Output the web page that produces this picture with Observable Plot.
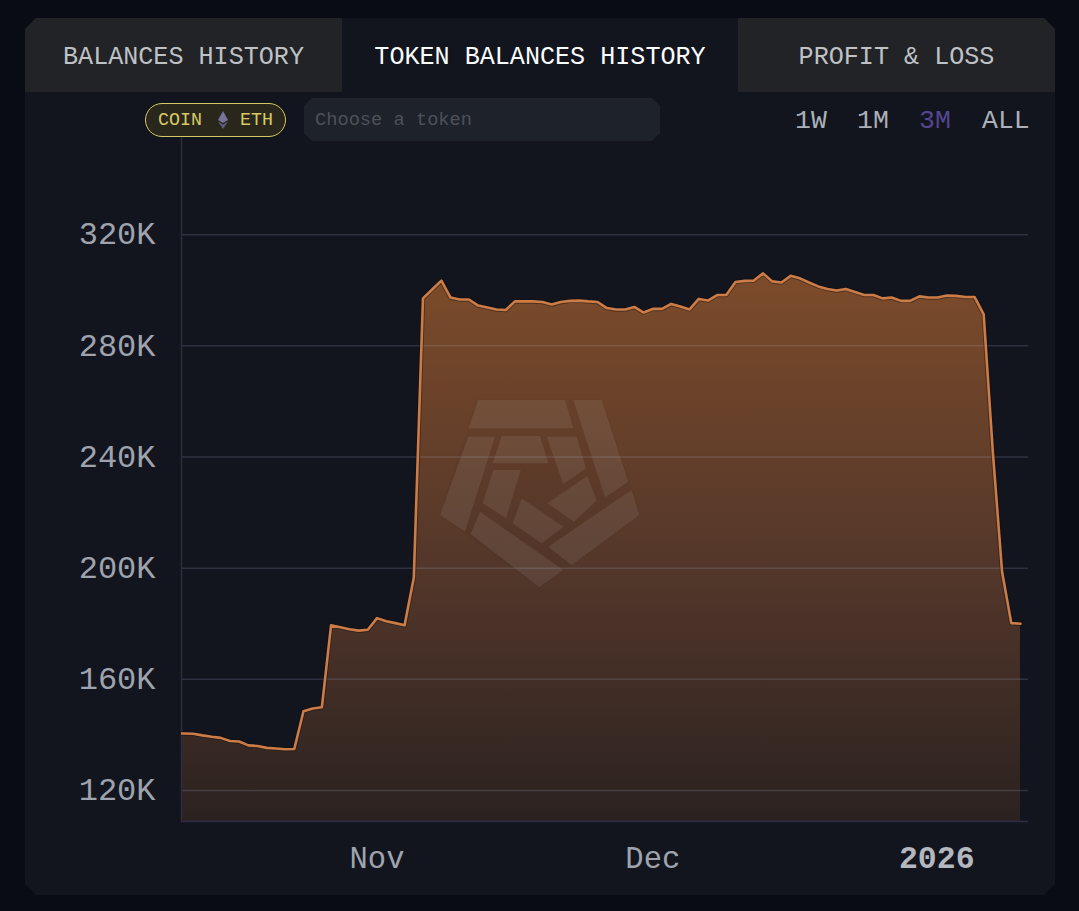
<!DOCTYPE html>
<html>
<head>
<meta charset="utf-8">
<script src="https://cdn.jsdelivr.net/npm/d3@7"></script>
<script src="https://cdn.jsdelivr.net/npm/@observablehq/plot@0.6"></script>
<style>
html,body{margin:0;padding:0;background:#090c15;}
body{width:1079px;height:911px;position:relative;overflow:hidden;font-family:"Liberation Mono",monospace;}
#card{position:absolute;left:25px;top:18px;width:1030px;height:877px;background:#12151e;
 clip-path:polygon(0 11px,11px 0,calc(100% - 11px) 0,100% 11px,100% calc(100% - 11px),calc(100% - 11px) 100%,11px 100%,0 calc(100% - 11px));}
.tab{position:absolute;top:18px;height:74px;line-height:79px;text-align:center;font-size:25.1px;color:#bfc1c4;background:#212327;}
#t1{left:25px;width:317px;clip-path:polygon(0 11px,11px 0,100% 0,100% 100%,0 100%);}
#t2{left:342px;width:396px;color:#fbfcfd;background:#12151e;}
#t3{left:738px;width:317px;clip-path:polygon(0 0,calc(100% - 11px) 0,100% 11px,100% 100%,0 100%);}
#chart{position:absolute;left:0;top:0;}
#badge{position:absolute;left:145px;top:103px;width:139px;height:32px;border:1px solid #d6c662;border-radius:17px;background:#29271b;color:#d9c964;font-size:18.3px;line-height:33px;}
#badge span{position:absolute;top:0;}
#badge svg{position:absolute;left:71px;top:7px;}
#input{position:absolute;left:304px;top:98px;width:356px;height:43px;line-height:45px;background:#1e222b;color:#4d5159;font-size:18.7px;text-indent:11px;
 clip-path:polygon(0 8px,8px 0,calc(100% - 8px) 0,100% 8px,100% calc(100% - 8px),calc(100% - 8px) 100%,8px 100%,0 calc(100% - 8px));}
.range{position:absolute;top:105px;font-size:26.5px;line-height:32px;color:#adb0b8;}
#logo{position:absolute;left:400px;top:260px;width:340px;height:340px;pointer-events:none;}
</style>
</head>
<body>
<div id="card"></div>
<div class="tab" id="t1">BALANCES HISTORY</div>
<div class="tab" id="t2">TOKEN BALANCES HISTORY</div>
<div class="tab" id="t3">PROFIT &amp; LOSS</div>
<div id="chart"></div>
<svg id="logo" viewBox="0 0 1020 1020"><polygon points="228,418 608,418 722,765 418,985 118,765" fill="#000000" fill-opacity="0.025"/><g id="logoShapes" fill="#ffffff" fill-opacity="0.08"></g></svg>
<div id="badge"><span style="left:12px">COIN</span><svg width="12" height="18" viewBox="0 0 12 18"><path d="M6 0L11 9L6 12L1 9Z" fill="#77739c"/><path d="M6 13.5L11 10.5L6 18L1 10.5Z" fill="#5f5b82"/></svg><span style="left:94px">ETH</span></div>
<div id="input">Choose a token</div>
<div class="range" style="left:795px">1W</div>
<div class="range" style="left:857px">1M</div>
<div class="range" style="left:919px;color:#54458f">3M</div>
<div class="range" style="left:982px">ALL</div>
<script>
// Token balance in thousands, one value per day from 2025-10-10
const startDate = new Date(Date.UTC(2025, 9, 10));
const balances = [
 140.5,140.5,140.4,139.8,139.3,138.9,137.8,137.6,136.2,136.0,135.3,135.1,134.8,134.9,
 148.5,149.5,149.9,179.4,178.7,178.0,177.5,177.8,182.0,180.9,180.2,179.4,196.5,
 297.1,300.3,303.5,297.4,296.7,296.7,294.5,293.8,293.1,292.9,296.0,296.0,296.0,295.8,
 294.9,295.8,296.2,296.3,296.0,295.8,293.6,293.1,293.1,294.0,292.0,293.3,293.3,295.1,
 294.2,293.1,296.9,296.3,298.3,298.3,303.0,303.4,303.5,306.1,303.2,302.8,305.2,304.3,
 302.8,301.4,300.5,299.9,300.5,299.4,298.3,298.3,297.1,297.4,296.2,296.2,297.8,297.4,
 297.4,298.1,298.0,297.6,297.6,291.3,241.6,198.7,180.2,180.0
];
const yTicks = [120,160,200,240,280,320];
const monthTicks = [new Date(Date.UTC(2025,10,1)), new Date(Date.UTC(2025,11,1))];
const monthLabels = ["Nov","Dec"];
const yearTicks = [new Date(Date.UTC(2026,0,1))];
const yearLabels = ["2026"];
const xDomain = [new Date(Date.UTC(2025,9,10,17,30)), new Date(Date.UTC(2026,0,10,21))];
const yDomain = [108.8,355];

const series = balances.map((value,i)=>({date:d3.utcDay.offset(startDate,i),value}));
const font = '"Liberation Mono",monospace';

function gradientDefs(){
  const defs = d3.create("svg:defs");
  const g = defs.append("linearGradient").attr("id","balFill")
    .attr("gradientUnits","userSpaceOnUse").attr("x1",0).attr("x2",0).attr("y1",275).attr("y2",821);
  g.append("stop").attr("offset","0%").attr("stop-color","#7c4b2a");
  g.append("stop").attr("offset","55%").attr("stop-color","#52362a");
  g.append("stop").attr("offset","100%").attr("stop-color","#2b2220");
  return defs.node();
}

const chart = Plot.plot({
  width:1079,height:911,
  marginTop:137,marginBottom:90,marginLeft:181,marginRight:51,
  style:{background:"transparent",fontFamily:font,overflow:"visible"},
  x:{type:"utc",domain:xDomain,axis:null},
  y:{domain:yDomain,axis:null},
  marks:[
    gradientDefs,
    Plot.areaY(series,{x:"date",y:"value",fill:"url(#balFill)",clip:true}),
    Plot.ruleY(yTicks,{stroke:"#a0a8c8",strokeOpacity:0.2,strokeWidth:1.5}),
    Plot.ruleX([xDomain[0]],{stroke:"#2c2f3b",strokeWidth:1.5}),
    Plot.ruleY([yDomain[0]],{stroke:"#2c2c45",strokeWidth:1.5}),
    Plot.lineY(series,{x:"date",y:"value",stroke:"#120d0c",strokeOpacity:0.4,strokeWidth:4.5,clip:true}),
    Plot.lineY(series,{x:"date",y:"value",stroke:"#cb7c47",strokeWidth:2.6,clip:true}),
    Plot.axisY(yTicks,{anchor:"left",tickSize:0,tickPadding:26,label:null,fontSize:32,fill:"#9fa3ad",dy:-0.5,tickFormat:d=>d+"K"}),
    Plot.axisX(monthTicks,{anchor:"bottom",tickSize:0,tickPadding:25,label:null,fontSize:30.5,fill:"#9fa3ad",tickFormat:d=>monthLabels[monthTicks.findIndex(t=>+t===+d)]}),
    Plot.axisX(yearTicks,{anchor:"bottom",tickSize:0,tickPadding:24,label:null,fontSize:31.5,fontWeight:"bold",fill:"#b4b7be",dx:-1,tickFormat:d=>yearLabels[0]})
  ]
});
document.getElementById("chart").appendChild(chart);

// Watermark logo (decoration, not data)
const logoPolys = [
 "235,420 495,420 520,505 205,505",
 "520,420 605,420 685,665 615,712",
 "695,690 718,765 515,915 445,860",
 "240,755 490,930 418,982 212,822",
 "205,530 285,530 195,815 120,765",
 "305,528 420,528 445,610 278,610",
 "440,530 530,530 558,625 490,672",
 "562,648 590,722 522,785 442,730",
 "365,715 490,800 425,850 338,790",
 "280,630 362,630 318,775 248,730"
];
d3.select("#logoShapes").selectAll("polygon").data(logoPolys).join("polygon").attr("points",d=>d);
</script>
</body>
</html>
